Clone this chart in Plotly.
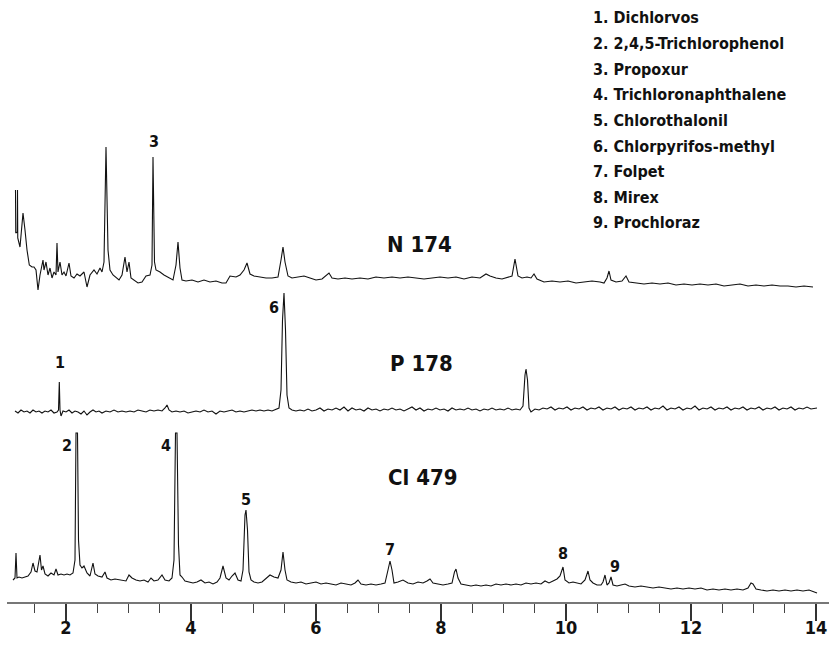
import plotly.graph_objects as go

# ---------------- data (retention time [min], detector signal [a.u.]) ----------------
N_174 = [(1.192,110),(1.196,67),(1.221,68),(1.224,110),(1.228,62),(1.264,53),(1.312,87),(1.344,70),
 (1.376,50),(1.413,35),(1.456,33),(1.488,33),(1.520,30),(1.552,10),(1.584,25),(1.632,40),(1.648,30),
 (1.680,38),(1.712,25),(1.744,32),(1.776,22),(1.808,28),(1.840,25),(1.856,57),(1.872,28),(1.904,38),
 (1.936,25),(1.968,28),(2.000,24),(2.048,37),(2.080,24),(2.128,22),(2.176,26),(2.224,24),(2.288,28),
 (2.336,13),(2.384,25),(2.448,30),(2.496,26),(2.544,32),(2.576,28),(2.608,38),(2.640,153),(2.672,50),
 (2.704,30),(2.752,25),(2.800,22),(2.848,20),(2.896,25),(2.944,43),(2.976,28),(3.008,38),(3.040,22),
 (3.088,20),(3.152,17),(3.216,18),(3.280,24),(3.344,25),(3.376,35),(3.392,143),(3.416,38),(3.440,30),
 (3.504,28),(3.568,25),(3.648,22),(3.712,20),(3.760,35),(3.792,58),(3.824,32),(3.856,20),(3.920,19),
 (4.016,20),(4.112,18),(4.208,20),(4.304,18),(4.400,19),(4.496,17),(4.560,17),(4.624,24),(4.720,23),
 (4.784,25),(4.848,30),(4.896,37),(4.944,26),(5.008,24),(5.104,23),(5.200,22),(5.296,22),(5.392,23),
 (5.440,40),(5.472,53),(5.504,38),(5.552,24),(5.616,22),(5.712,23),(5.808,24),(5.904,22),(6.000,20),
 (6.096,21),(6.208,27),(6.256,22),(6.352,21),(6.464,22),(6.576,21),(6.704,22),(6.832,21),(6.960,23),
 (7.088,22),(7.216,23),(7.344,22),(7.472,23),(7.600,22),(7.728,21),(7.856,22),(7.984,23),(8.112,22),
 (8.240,23),(8.368,21),(8.496,23),(8.624,22),(8.720,26),(8.784,24),(8.880,22),(8.976,21),(9.072,23),
 (9.136,24),(9.184,41),(9.232,24),(9.296,22),(9.376,23),(9.440,22),(9.488,26),(9.536,21),(9.648,18),
 (9.776,19),(9.904,18),(10.032,19),(10.160,17),(10.288,18),(10.416,19),(10.544,18),(10.608,17),
 (10.656,22),(10.688,29),(10.720,20),(10.800,18),(10.896,19),(10.960,24),(11.008,18),(11.120,17),
 (11.248,16),(11.376,17),(11.504,16),(11.632,17),(11.760,15),(11.888,16),(12.016,15),(12.144,16),
 (12.272,15),(12.400,16),(12.528,14),(12.656,15),(12.784,16),(12.912,14),(13.040,15),(13.168,14),
 (13.296,15),(13.424,14),(13.552,14),(13.680,13),(13.808,14),(13.952,13)]

P_178 = [(1.184,9),(1.232,7),(1.28,10),(1.328,8),(1.376,9),(1.424,7),(1.472,10),(1.52,8),(1.568,9),
 (1.616,7),(1.664,9),(1.712,8),(1.76,10),(1.808,7),(1.856,8),(1.88,10),(1.893,38),(1.904,10),(1.92,4),
 (1.952,9),(2.0,8),(2.048,10),(2.096,7),(2.144,9),(2.192,8),(2.24,6),(2.288,9),(2.336,5),(2.384,8),
 (2.432,10),(2.48,8),(2.528,9),(2.576,7),(2.64,9),(2.704,8),(2.768,10),(2.832,8),(2.896,9),(2.96,8),
 (3.024,9),(3.088,8),(3.152,10),(3.216,9),(3.28,8),(3.344,10),(3.408,9),(3.472,10),(3.536,9),(3.584,12),
 (3.616,15),(3.648,10),(3.696,8),(3.76,9),(3.824,8),(3.888,9),(3.952,7),(4.016,8),(4.08,9),(4.144,8),
 (4.208,10),(4.272,8),(4.336,9),(4.4,6),(4.464,9),(4.528,8),(4.592,9),(4.656,10),(4.72,8),(4.784,9),
 (4.848,8),(4.912,9),(4.976,10),(5.04,9),(5.104,10),(5.168,9),(5.232,10),(5.296,9),(5.36,11),(5.408,12),
 (5.44,30),(5.464,100),(5.488,127),(5.512,90),(5.536,25),(5.568,12),(5.616,10),(5.68,9),(5.744,10),
 (5.808,9),(5.872,11),(5.936,9),(6.0,10),(6.064,12),(6.128,9),(6.192,11),(6.256,10),(6.32,12),(6.384,10),
 (6.448,13),(6.512,9),(6.576,12),(6.64,10),(6.704,11),(6.768,9),(6.832,12),(6.896,10),(6.96,11),
 (7.024,9),(7.088,11),(7.152,10),(7.216,12),(7.28,10),(7.344,11),(7.408,9),(7.472,11),(7.536,13),
 (7.6,10),(7.664,12),(7.728,9),(7.792,11),(7.856,10),(7.92,12),(7.984,10),(8.048,11),(8.112,9),
 (8.176,12),(8.24,10),(8.304,11),(8.368,10),(8.432,12),(8.496,10),(8.56,11),(8.624,9),(8.688,11),
 (8.752,10),(8.816,12),(8.88,10),(8.944,11),(9.008,10),(9.072,12),(9.136,10),(9.2,11),(9.264,10),
 (9.312,14),(9.344,45),(9.36,51),(9.384,40),(9.408,12),(9.44,8),(9.504,11),(9.568,10),(9.632,12),
 (9.696,11),(9.76,13),(9.824,10),(9.888,12),(9.952,11),(10.016,13),(10.08,10),(10.144,12),(10.208,11),
 (10.272,13),(10.336,10),(10.4,12),(10.464,11),(10.528,13),(10.592,10),(10.656,12),(10.72,11),
 (10.784,13),(10.848,10),(10.912,12),(10.976,11),(11.04,13),(11.104,10),(11.168,12),(11.232,11),
 (11.296,13),(11.36,10),(11.424,12),(11.488,11),(11.552,14),(11.616,10),(11.68,12),(11.744,11),
 (11.808,13),(11.872,10),(11.936,12),(12.0,11),(12.064,14),(12.128,10),(12.192,12),(12.256,11),
 (12.32,13),(12.384,10),(12.448,12),(12.512,11),(12.576,13),(12.64,10),(12.704,12),(12.768,11),
 (12.832,13),(12.896,10),(12.96,12),(13.024,11),(13.088,13),(13.152,10),(13.216,12),(13.28,11),
 (13.344,13),(13.408,10),(13.472,12),(13.536,11),(13.6,13),(13.664,10),(13.728,12),(13.792,11),
 (13.856,13),(13.92,11),(13.984,12),(14.016,12)]

CL_479 = [(1.152,22),(1.184,24),(1.2,49),(1.216,24),(1.248,25),(1.296,24),(1.344,25),(1.392,26),
 (1.44,30),(1.472,39),(1.504,31),(1.536,30),(1.584,47),(1.608,32),(1.632,36),(1.664,28),(1.712,26),
 (1.76,29),(1.808,27),(1.84,33),(1.872,27),(1.92,28),(1.968,27),(2.016,28),(2.064,27),(2.112,29),
 (2.144,42),(2.16,169),(2.184,169),(2.2,62),(2.224,37),(2.256,34),(2.288,36),(2.336,29),(2.384,26),
 (2.432,39),(2.464,28),(2.512,26),(2.576,25),(2.624,30),(2.656,24),(2.72,22),(2.784,23),(2.848,22),
 (2.912,21),(2.96,21),(3.008,27),(3.056,24),(3.12,22),(3.184,21),(3.248,22),(3.312,20),(3.36,24),
 (3.408,21),(3.472,22),(3.536,27),(3.584,22),(3.648,21),(3.696,24),(3.728,42),(3.752,169),(3.776,169),
 (3.8,57),(3.824,27),(3.856,25),(3.904,21),(3.968,20),(4.032,19),(4.096,20),(4.16,22),(4.224,19),
 (4.288,20),(4.352,18),(4.416,20),(4.464,24),(4.512,36),(4.56,24),(4.608,22),(4.656,26),(4.704,29),
 (4.752,22),(4.8,21),(4.832,32),(4.864,87),(4.88,92),(4.904,72),(4.928,30),(4.96,22),(5.008,20),
 (5.072,19),(5.136,20),(5.2,24),(5.264,27),(5.328,25),(5.392,24),(5.44,32),(5.472,50),(5.504,32),
 (5.536,22),(5.6,20),(5.68,19),(5.76,20),(5.84,18),(5.92,19),(6.0,20),(6.08,18),(6.16,19),(6.24,18),
 (6.32,17),(6.4,19),(6.48,18),(6.56,17),(6.624,19),(6.672,22),(6.72,18),(6.8,17),(6.88,18),(6.96,17),
 (7.04,18),(7.104,19),(7.152,32),(7.184,41),(7.216,32),(7.248,19),(7.312,20),(7.392,22),(7.472,19),
 (7.552,18),(7.632,20),(7.712,19),(7.776,21),(7.824,23),(7.872,19),(7.952,18),(8.032,17),(8.112,18),
 (8.176,19),(8.216,30),(8.24,33),(8.272,24),(8.32,18),(8.4,17),(8.48,16),(8.56,17),(8.64,16),(8.72,17),
 (8.8,16),(8.88,18),(8.96,17),(9.04,18),(9.12,17),(9.2,18),(9.28,17),(9.36,19),(9.44,18),(9.52,19),
 (9.6,18),(9.664,21),(9.728,19),(9.792,21),(9.856,23),(9.904,26),(9.928,32),(9.952,35),(9.984,22),
 (10.048,19),(10.112,20),(10.176,19),(10.24,18),(10.304,22),(10.328,27),(10.352,31),(10.384,22),
 (10.432,19),(10.496,17),(10.56,17),(10.592,20),(10.624,27),(10.656,17),(10.688,19),(10.72,25),
 (10.752,17),(10.816,16),(10.88,17),(10.944,18),(11.008,16),(11.104,15),(11.2,16),(11.296,15),
 (11.392,14),(11.488,15),(11.584,14),(11.68,13),(11.776,14),(11.872,13),(11.968,14),(12.064,13),
 (12.16,14),(12.256,12),(12.352,13),(12.448,12),(12.544,13),(12.64,12),(12.736,13),(12.832,12),
 (12.912,14),(12.96,19),(12.992,18),(13.04,13),(13.12,12),(13.216,11),(13.312,12),(13.408,11),
 (13.504,12),(13.6,11),(13.696,12),(13.792,11),(13.888,12),(13.968,10),(14.016,9)]

TRACE_NAMES = ["N 174", "P 178", "Cl 479"]
# peak number labels: (label, retention time, signal, trace)
PEAK_LABELS = [("3", 3.408, 159, "N 174"), ("1", 1.904, 58, "P 178"), ("6", 5.328, 113, "P 178"),
               ("2", 2.016, 157, "Cl 479"), ("4", 3.600, 157, "Cl 479"), ("5", 4.880, 103, "Cl 479"),
               ("7", 7.184, 53, "Cl 479"), ("8", 9.952, 49, "Cl 479"), ("9", 10.784, 36, "Cl 479")]
TRACE_LABEL_POS = [(7.104, 56), (7.152, 57), (7.120, 125)]
COMPOUNDS = ["1. Dichlorvos", "2. 2,4,5-Trichlorophenol", "3. Propoxur", "4. Trichloronaphthalene",
             "5. Chlorothalonil", "6. Chlorpyrifos-methyl", "7. Folpet", "8. Mirex", "9. Prochloraz"]
X_TICKS = [2, 4, 6, 8, 10, 12, 14]

# ---------------- figure ----------------
FONT = "DejaVu Sans Condensed, Liberation Sans Narrow, sans-serif"
W, H = 829, 645
ML, MR, MT, MB = 7, 0, 0, 43
PH = H - MT - MB                  # plot height (px)
PX_PER_MIN = 62.5
axis_ids = ["y3", "y2", "y"]
ref_from_bottom = [302, 182, 0]   # baseline reference of each trace above the time axis (px)

fig = go.Figure()
for data, name, yid in zip([N_174, P_178, CL_479], TRACE_NAMES, axis_ids):
    fig.add_trace(go.Scatter(x=[p[0] for p in data], y=[p[1] for p in data], mode="lines",
                             name=name, yaxis=yid, showlegend=False, hoverinfo="skip",
                             line=dict(color="#111111", width=1.1)))

for lab, t, v, tr in PEAK_LABELS:
    yid = axis_ids[TRACE_NAMES.index(tr)]
    fig.add_annotation(x=t, y=v, xref="x", yref=yid, text=lab, showarrow=False,
                       font=dict(family=FONT, size=16, color="#111", weight="bold"))

for name, (t, v), yid in zip(TRACE_NAMES, TRACE_LABEL_POS, axis_ids):
    fig.add_annotation(x=t, y=v, xref="x", yref=yid, text=name, showarrow=False, xanchor="left",
                       font=dict(family=FONT, size=22, color="#111", weight="bold"))

for i, c in enumerate(COMPOUNDS):
    py = 18 + i * 25.6
    fig.add_annotation(x=(591 - ML) / (W - ML - MR), y=(PH - py) / PH,
                       xref="paper", yref="paper", text=c, showarrow=False,
                       xanchor="left", yanchor="middle",
                       font=dict(family=FONT, size=16, color="#111", weight="bold"))

x0 = 2 - (66 - ML) / PX_PER_MIN
x1 = x0 + (W - ML - MR) / PX_PER_MIN
layout_axes = {}
for yid, b in zip(axis_ids, ref_from_bottom):
    key = "yaxis" if yid == "y" else "yaxis" + yid[1:]
    ax = dict(range=[-b, PH - b], visible=False, fixedrange=True, automargin=False)
    if yid != "y":
        ax["overlaying"] = "y"
    layout_axes[key] = ax

fig.update_layout(
    width=W, height=H, margin=dict(l=ML, r=MR, t=MT, b=MB, autoexpand=False),
    paper_bgcolor="white", plot_bgcolor="white", hovermode=False,
    xaxis=dict(range=[x0, x1], showgrid=False, zeroline=False, showline=True, automargin=False,
               fixedrange=True,
               linecolor="#777", linewidth=1.5, ticks="outside", ticklen=17, tickwidth=1.3,
               tickcolor="#333", tickvals=X_TICKS, ticktext=[str(v) for v in X_TICKS],
               ticklabelstandoff=-8,
               tickfont=dict(family=FONT, size=18, color="#111", weight="bold"),
               minor=dict(dtick=0.5, tick0=0, ticks="outside", ticklen=9, tickwidth=1.2,
                          tickcolor="#444", showgrid=False)),
    **layout_axes,
)
fig.write_html("out.html", config={"displayModeBar": False, "staticPlot": True},
               post_script="document.body.style.margin='0';document.body.style.overflow='hidden';")
